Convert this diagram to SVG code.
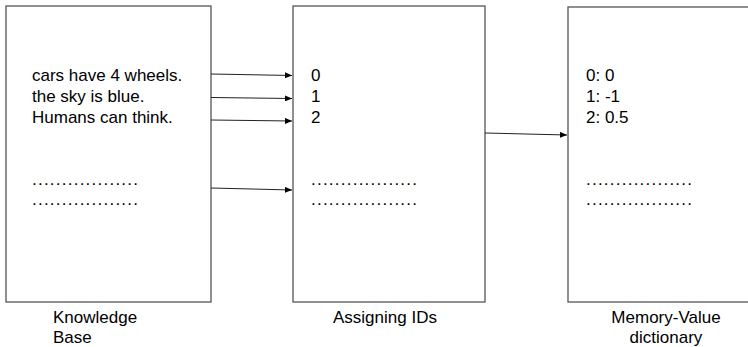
<svg xmlns="http://www.w3.org/2000/svg" width="748" height="347" viewBox="0 0 748 347">
<style>
.box{fill:#fff;stroke:#555;stroke-width:1.3}
.t{font-family:"Liberation Sans",Arial,sans-serif;font-size:17px;fill:#000}
.c{fill:none;stroke:#222;stroke-width:1}
</style>
<defs>
<marker id="ah" markerWidth="8" markerHeight="6" refX="7" refY="3" orient="auto" markerUnits="userSpaceOnUse">
<path d="M0,0 L7,3 L0,6 Z" fill="#000"/>
</marker>
</defs>
<rect width="748" height="347" fill="#fff"/>
<g id="kb">
<rect class="box" x="6" y="6" width="205" height="296"/>
<text class="t" x="32" y="81">cars have 4 wheels.</text>
<text class="t" x="32" y="102">the sky is blue.</text>
<text class="t" x="32" y="123">Humans can think.</text>
<text class="t" x="32" y="185" textLength="106" lengthAdjust="spacing">..................</text>
<text class="t" x="32" y="205" textLength="106" lengthAdjust="spacing">..................</text>
<text class="t" x="53" y="323">Knowledge</text>
<text class="t" x="53" y="343">Base</text>
</g>
<g id="ids">
<rect class="box" x="293" y="6" width="192" height="296"/>
<text class="t" x="311" y="81">0</text>
<text class="t" x="311" y="102">1</text>
<text class="t" x="311" y="123">2</text>
<text class="t" x="311" y="185" textLength="106" lengthAdjust="spacing">..................</text>
<text class="t" x="311" y="205" textLength="106" lengthAdjust="spacing">..................</text>
<text class="t" x="333" y="323">Assigning IDs</text>
</g>
<g id="mv">
<rect class="box" x="568" y="7" width="200" height="295"/>
<text class="t" x="586" y="81">0: 0</text>
<text class="t" x="586" y="102">1: -1</text>
<text class="t" x="586" y="123">2: 0.5</text>
<text class="t" x="586" y="185" textLength="106" lengthAdjust="spacing">..................</text>
<text class="t" x="586" y="205" textLength="106" lengthAdjust="spacing">..................</text>
<text class="t" x="666" y="323" text-anchor="middle">Memory-Value</text>
<text class="t" x="666" y="343" text-anchor="middle">dictionary</text>
</g>
<g id="connectors">
<line class="c" x1="211" y1="74" x2="292" y2="75.5" marker-end="url(#ah)"/>
<line class="c" x1="211" y1="97.5" x2="292" y2="98.5" marker-end="url(#ah)"/>
<line class="c" x1="211" y1="120" x2="292" y2="121" marker-end="url(#ah)"/>
<line class="c" x1="211" y1="188" x2="292" y2="190" marker-end="url(#ah)"/>
<line class="c" x1="485" y1="133" x2="567" y2="135" marker-end="url(#ah)"/>
</g>
</svg>
